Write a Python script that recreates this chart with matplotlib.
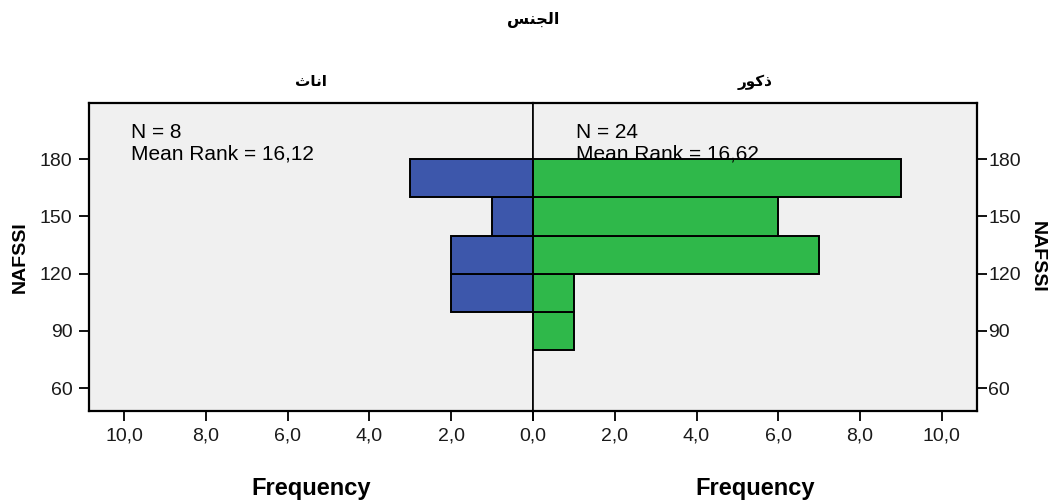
import matplotlib
matplotlib.use('Agg')
import matplotlib.pyplot as plt

plt.rcParams['font.family'] = ['Liberation Sans', 'DejaVu Sans']

# NAFSSI bins (lower edges, width 20) and counts per group
bin_starts = [80, 100, 120, 140, 160]
bin_width = 20
female_counts = [0, 2, 2, 1, 3]
male_counts = [1, 1, 7, 6, 9]

female_n = 8
male_n = 24
female_rank = '16,12'
male_rank = '16,62'

y_ticks = [60, 90, 120, 150, 180]
x_ticks = [0, 2, 4, 6, 8, 10]

# Arabic labels written in presentation forms, visual order (matplotlib does no shaping)
title_txt = '\ufeb2\ufee8\ufea0\ufedf\ufe8d'      # الجنس
female_txt = '\ufe99\ufe8e\ufee7\ufe8d'           # اناث
male_txt = '\ufead\ufeee\ufedb\ufeab'             # ذكور
arabic_fonts = ['DejaVu Sans']

bg = '#f0f0f0'
blue = '#3d57ab'
green = '#2fb84a'
xmax = 10.86
ymin, ymax = 48, 209.5

fig = plt.figure(figsize=(10.5, 5.01), dpi=100)
ax_l = fig.add_axes([89 / 1050, 90 / 501, 444 / 1050, 308 / 501])
ax_r = fig.add_axes([533 / 1050, 90 / 501, 444 / 1050, 308 / 501])

for ax, counts, color in [(ax_l, female_counts, blue), (ax_r, male_counts, green)]:
    ax.set_facecolor(bg)
    bars = [(b, c) for b, c in zip(bin_starts, counts) if c > 0]
    ax.barh([b for b, c in bars], [c for b, c in bars], height=bin_width,
            align='edge', color=color, edgecolor='black', linewidth=1.4, zorder=3)
    ax.set_ylim(ymin, ymax)
    ax.set_xticks(x_ticks)
    ax.set_xticklabels([f'{t:.1f}'.replace('.', ',') for t in x_ticks])
    ax.set_yticks(y_ticks)
    ax.tick_params(axis='both', direction='out', length=7, width=1.3,
                   labelsize=14, colors='black', labelcolor='#1a1a1a', pad=5)
    for s in ax.spines.values():
        s.set_linewidth(1.6)
    ax.set_xlabel('Frequency', fontsize=17, fontweight='bold', labelpad=23)

ax_l.set_xlim(xmax, 0)
ax_r.set_xlim(0, xmax)
ax_r.set_xticklabels([''] + [f'{t:.1f}'.replace('.', ',') for t in x_ticks[1:]])

ax_l.spines['right'].set_linewidth(1.2)
ax_r.spines['left'].set_linewidth(1.2)
ax_l.tick_params(axis='y', left=True, right=False, labelleft=True, labelright=False)
ax_r.tick_params(axis='y', left=False, right=True, labelleft=False, labelright=True, pad=1)

ax_l.set_ylabel('NAFSSI', fontsize=14, fontweight='bold', labelpad=8)
ax_r.yaxis.set_label_position('right')
ax_r.set_ylabel('NAFSSI', fontsize=14, fontweight='bold', rotation=270, labelpad=18)

ax_l.text(0.095, 0.935, f'N = {female_n}\nMean Rank = {female_rank}',
          transform=ax_l.transAxes, ha='left', va='top', fontsize=15,
          linespacing=1.15, zorder=5)
ax_r.text(0.097, 0.935, f'N = {male_n}\nMean Rank = {male_rank}',
          transform=ax_r.transAxes, ha='left', va='top', fontsize=15,
          linespacing=1.15, zorder=5)

ax_l.set_title(female_txt, family=arabic_fonts, fontsize=11, fontweight='bold', pad=12)
ax_r.set_title(male_txt, family=arabic_fonts, fontsize=11, fontweight='bold', pad=12)
fig.text(533 / 1050, 1 - 20 / 501, title_txt, family=arabic_fonts, fontsize=11.5,
         fontweight='bold', ha='center', va='center')

fig.savefig('out.png', dpi=100, facecolor='white')
